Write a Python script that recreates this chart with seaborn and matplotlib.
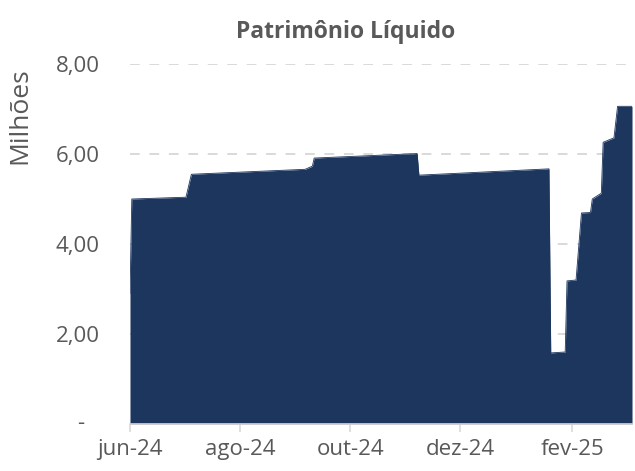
import pandas as pd
import numpy as np
import seaborn as sns
import matplotlib.pyplot as plt

# Patrimônio Líquido (R$ milhões)
datas = ["2024-06-01", "2024-06-02", "2024-07-02", "2024-07-05", "2024-09-06",
         "2024-09-10", "2024-09-11", "2024-11-07", "2024-11-08", "2025-01-19",
         "2025-01-20", "2025-01-28", "2025-01-29", "2025-02-03", "2025-02-04",
         "2025-02-06", "2025-02-11", "2025-02-12", "2025-02-17", "2025-02-18",
         "2025-02-24", "2025-02-26", "2025-03-06"]
valores = [2.90, 5.00, 5.04, 5.55, 5.66,
           5.73, 5.91, 6.01, 5.53, 5.67,
           1.58, 1.60, 3.18, 3.20, 3.70,
           4.69, 4.70, 5.00, 5.13, 6.26,
           6.36, 7.06, 7.06]
meses = ["2024-06-01", "2024-08-01", "2024-10-01", "2024-12-01", "2025-02-01"]
rotulos_x = ["jun-24", "ago-24", "out-24", "dez-24", "fev-25"]
ticks_y = [0, 2, 4, 6, 8]
rotulos_y = ["", "2,00", "4,00", "6,00", "8,00"]

df = pd.DataFrame({"data": pd.to_datetime(datas), "pl": valores})

sns.set_theme(style="white")
plt.rcParams['font.family'] = ['Open Sans', 'DejaVu Sans']

cor = "#1D365E"
cinza = "#595959"

fig = plt.figure(figsize=(6.35, 4.71), dpi=100)
ax = fig.add_axes([0.2047, 0.0998, 0.7906, 0.7643])

sns.lineplot(data=df, x="data", y="pl", ax=ax, color=cor, linewidth=0.6, zorder=3)
ax.fill_between(df["data"], 0, df["pl"], color=cor, linewidth=0, zorder=3)

ax.set_xlim(pd.Timestamp("2024-06-01"), pd.Timestamp("2025-03-06"))
ax.set_ylim(0, 8)

ax.set_yticks(ticks_y)
ax.set_yticklabels(rotulos_y)
ax.set_xticks(pd.to_datetime(meses))
ax.set_xticklabels(rotulos_x)

# zero shown as "-" (accounting format), a bit left of the number column
ax.text(-0.098, 0, "-", transform=ax.get_yaxis_transform(), ha="center",
        va="center", fontsize=16, color=cinza)

for y in ticks_y[1:]:
    ax.axhline(y, color="#d9d9d9", linewidth=1.4, linestyle=(0, (5, 5)), zorder=1)

for s in ["top", "right", "left"]:
    ax.spines[s].set_visible(False)
ax.spines["bottom"].set_color("#d9d9d9")
ax.spines["bottom"].set_linewidth(1.2)
ax.spines["bottom"].set_zorder(4)

ax.tick_params(axis="x", colors=cinza, labelsize=16, length=6, width=1.2,
               color="#d9d9d9", pad=5, bottom=True)
ax.tick_params(axis="y", colors=cinza, labelsize=16, length=0, pad=22)
ax.set_xlabel("")
ax.set_ylabel("")

fig.text(0.032, 0.755, "Milhões", rotation=90, ha="center", va="center",
         fontsize=19, color=cinza)
fig.text(0.545, 0.932, "Patrimônio Líquido", ha="center", va="center",
         fontsize=16.5, fontweight="bold", color=cinza)

fig.savefig("out.png", dpi=100)
